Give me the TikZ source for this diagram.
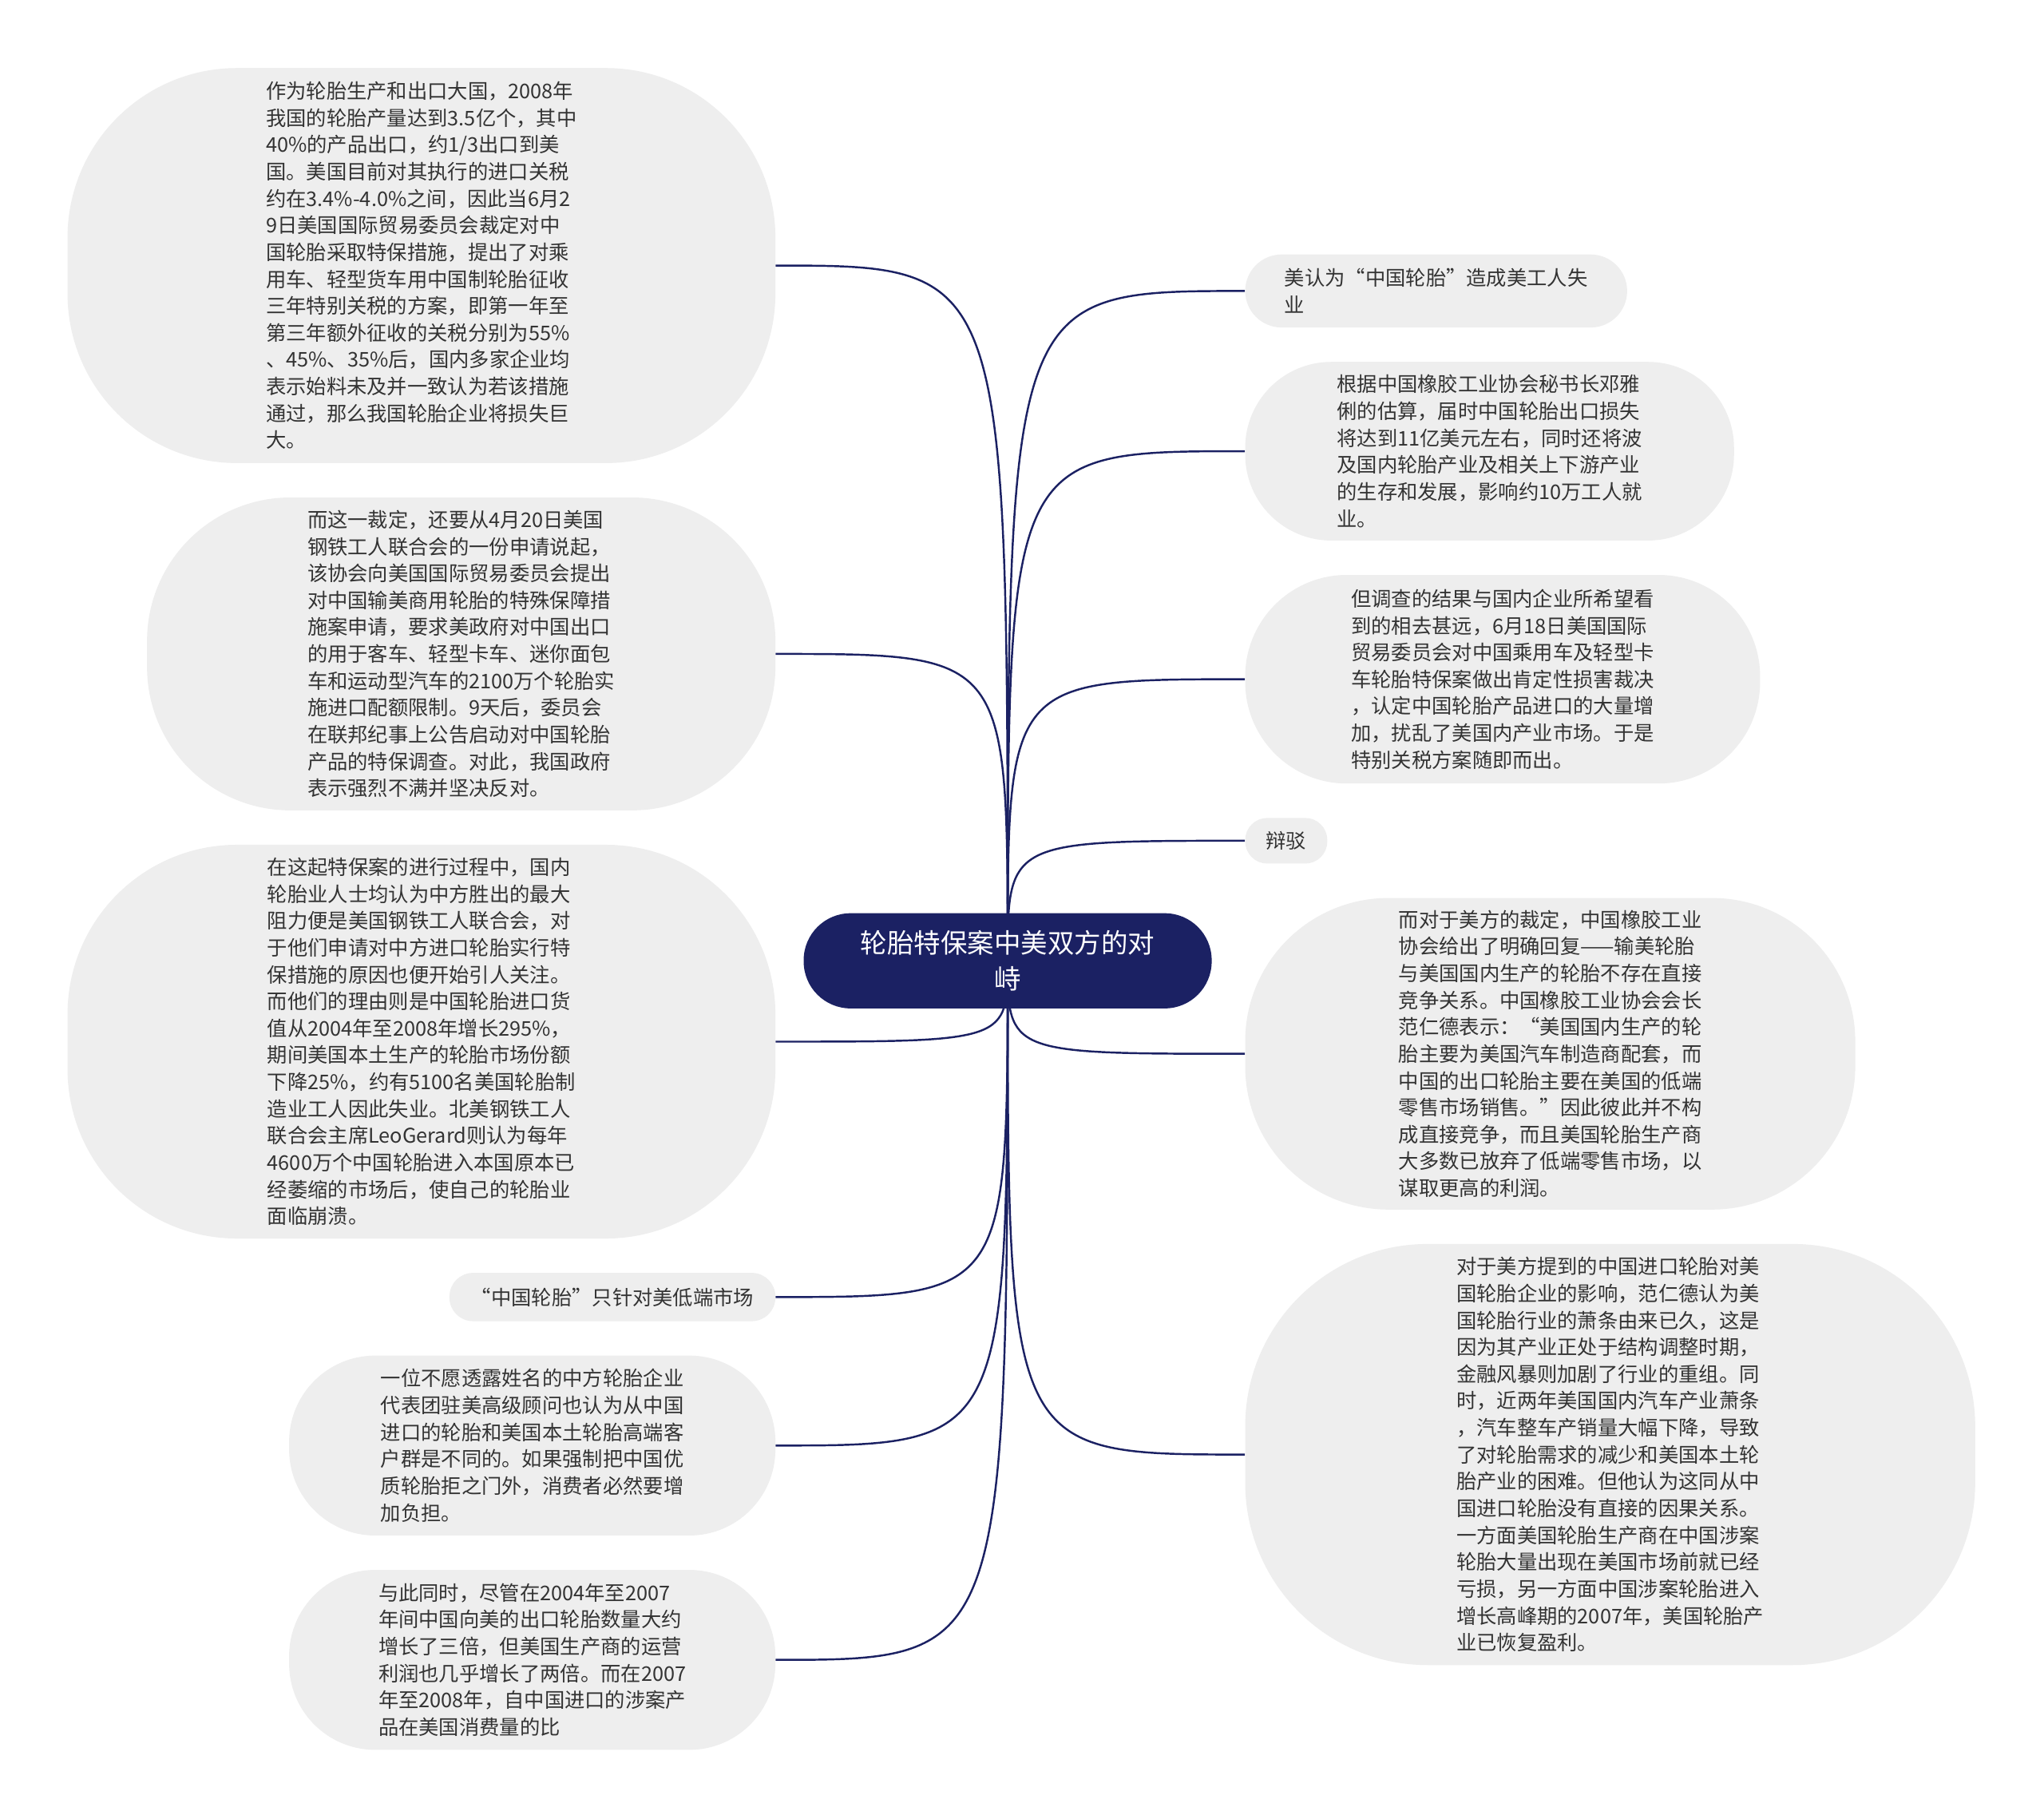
\documentclass[tikz,border=0pt]{standalone}
\usepackage{fontspec}
\setmainfont{Noto Sans CJK SC}
\usepackage{tikz}
\usetikzlibrary{positioning, backgrounds}
\definecolor{tyreNavy}{HTML}{1B2163}
\definecolor{bubbleGrey}{HTML}{EEEEEE}
\definecolor{inkGrey}{HTML}{333333}
\newcommand\bubblefont{\fontsize{15.5}{20.6}\selectfont}
\newcommand\topicfont{\fontsize{20.5}{27.5}\selectfont}
\tikzset{
  topic/.style  = {fill=tyreNavy, text=white, align=center, font=\topicfont,
                   rounded corners=36pt, minimum width=313pt, minimum height=73pt},
  bubble/.style = {fill=bubbleGrey, text=inkGrey, align=left, font=\bubblefont,
                   inner sep=0pt},
  fl/.style     = {draw=tyreNavy, line width=1.5pt}
}
\begin{document}
\begin{tikzpicture}[x=1pt, y=-1pt, node distance=26pt]
  \useasboundingbox (0,0) rectangle (1568,1392);
  \node[topic] (root) at (773,737) {轮胎特保案中美双方的对\\峙};
  % left column
  \node[bubble, anchor=north east, minimum width=543pt, minimum height=303pt, rounded corners=130pt] (L1) at (595,52)
    {作为轮胎生产和出口大国，2008年\\我国的轮胎产量达到3.5亿个，其中\\40\%的产品出口，约1/3出口到美\\国。美国目前对其执行的进口关税\\约在3.4\%-4.0\%之间，因此当6月2\\9日美国国际贸易委员会裁定对中\\国轮胎采取特保措施，提出了对乘\\用车、轻型货车用中国制轮胎征收\\三年特别关税的方案，即第一年至\\第三年额外征收的关税分别为55\%\\、45\%、35\%后，国内多家企业均\\表示始料未及并一致认为若该措施\\通过，那么我国轮胎企业将损失巨\\大。};
  \node[bubble, below=of L1.south east, anchor=north east, minimum width=482pt, minimum height=240pt, rounded corners=110pt] (L2)
    {而这一裁定，还要从4月20日美国\\钢铁工人联合会的一份申请说起，\\该协会向美国国际贸易委员会提出\\对中国输美商用轮胎的特殊保障措\\施案申请，要求美政府对中国出口\\的用于客车、轻型卡车、迷你面包\\车和运动型汽车的2100万个轮胎实\\施进口配额限制。9天后，委员会\\在联邦纪事上公告启动对中国轮胎\\产品的特保调查。对此，我国政府\\表示强烈不满并坚决反对。};
  \node[bubble, below=of L2.south east, anchor=north east, minimum width=543pt, minimum height=302pt, rounded corners=130pt] (L3)
    {在这起特保案的进行过程中，国内\\轮胎业人士均认为中方胜出的最大\\阻力便是美国钢铁工人联合会，对\\于他们申请对中方进口轮胎实行特\\保措施的原因也便开始引人关注。\\而他们的理由则是中国轮胎进口货\\值从2004年至2008年增长295\%，\\期间美国本土生产的轮胎市场份额\\下降25\%，约有5100名美国轮胎制\\造业工人因此失业。北美钢铁工人\\联合会主席LeoGerard则认为每年\\4600万个中国轮胎进入本国原本已\\经萎缩的市场后，使自己的轮胎业\\面临崩溃。};
  \node[bubble, below=of L3.south east, anchor=north east, minimum width=250pt, minimum height=37pt, rounded corners=18pt] (L4)
    {“中国轮胎”只针对美低端市场};
  \node[bubble, below=of L4.south east, anchor=north east, minimum width=373pt, minimum height=138pt, rounded corners=66pt] (L5)
    {一位不愿透露姓名的中方轮胎企业\\代表团驻美高级顾问也认为从中国\\进口的轮胎和美国本土轮胎高端客\\户群是不同的。如果强制把中国优\\质轮胎拒之门外，消费者必然要增\\加负担。};
  \node[bubble, below=of L5.south east, anchor=north east, minimum width=373pt, minimum height=138pt, rounded corners=66pt] (L6)
    {与此同时，尽管在2004年至2007\\年间中国向美的出口轮胎数量大约\\增长了三倍，但美国生产商的运营\\利润也几乎增长了两倍。而在2007\\年至2008年，自中国进口的涉案产\\品在美国消费量的比};
  % right column
  \node[bubble, anchor=north west, minimum width=293pt, minimum height=56pt, rounded corners=28pt] (R1) at (955,195)
    {美认为“中国轮胎”造成美工人失\\业};
  \node[bubble, below=of R1.south west, anchor=north west, minimum width=375pt, minimum height=137pt, rounded corners=66pt] (R2)
    {根据中国橡胶工业协会秘书长邓雅\\俐的估算，届时中国轮胎出口损失\\将达到11亿美元左右，同时还将波\\及国内轮胎产业及相关上下游产业\\的生存和发展，影响约10万工人就\\业。};
  \node[bubble, below=of R2.south west, anchor=north west, minimum width=395pt, minimum height=160pt, rounded corners=78pt] (R3)
    {但调查的结果与国内企业所希望看\\到的相去甚远，6月18日美国国际\\贸易委员会对中国乘用车及轻型卡\\车轮胎特保案做出肯定性损害裁决\\，认定中国轮胎产品进口的大量增\\加，扰乱了美国内产业市场。于是\\特别关税方案随即而出。};
  \node[bubble, below=of R3.south west, anchor=north west, minimum width=63pt, minimum height=35pt, rounded corners=17pt] (R4)
    {辩驳};
  \node[bubble, below=of R4.south west, anchor=north west, minimum width=468pt, minimum height=239pt, rounded corners=110pt] (R5)
    {而对于美方的裁定，中国橡胶工业\\协会给出了明确回复——输美轮胎\\与美国国内生产的轮胎不存在直接\\竞争关系。中国橡胶工业协会会长\\范仁德表示：“美国国内生产的轮\\胎主要为美国汽车制造商配套，而\\中国的出口轮胎主要在美国的低端\\零售市场销售。”因此彼此并不构\\成直接竞争，而且美国轮胎生产商\\大多数已放弃了低端零售市场，以\\谋取更高的利润。};
  \node[bubble, below=of R5.south west, anchor=north west, minimum width=560pt, minimum height=323pt, rounded corners=140pt] (R6)
    {对于美方提到的中国进口轮胎对美\\国轮胎企业的影响，范仁德认为美\\国轮胎行业的萧条由来已久，这是\\因为其产业正处于结构调整时期，\\金融风暴则加剧了行业的重组。同\\时，近两年美国国内汽车产业萧条\\，汽车整车产销量大幅下降，导致\\了对轮胎需求的减少和美国本土轮\\胎产业的困难。但他认为这同从中\\国进口轮胎没有直接的因果关系。\\一方面美国轮胎生产商在中国涉案\\轮胎大量出现在美国市场前就已经\\亏损，另一方面中国涉案轮胎进入\\增长高峰期的2007年，美国轮胎产\\业已恢复盈利。};
  \begin{scope}[on background layer]
    \fill[white] (0,0) rectangle (1568,1392);
    \foreach \n in {L1,L2,L3,L4,L5,L6}
      \draw[fl] (root.center) .. controls (root.center |- \n.east) .. (\n.east);
    \foreach \n in {R1,R2,R3,R4,R5,R6}
      \draw[fl] (root.center) .. controls (root.center |- \n.west) .. (\n.west);
  \end{scope}
\end{tikzpicture}
\end{document}
